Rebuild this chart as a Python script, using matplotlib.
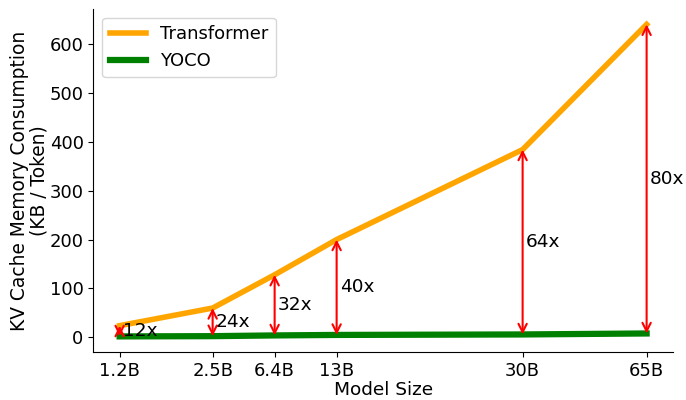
import matplotlib
matplotlib.use('Agg')
import matplotlib.pyplot as plt

models = ['1.2B', '2.5B', '6.4B', '13B', '30B', '65B']
xpos = [0, 1.5, 2.5, 3.5, 6.5, 8.5]
transformer = [24, 60, 128, 200, 384, 640]
yoco = [2, 2.5, 4, 5, 6, 8]
ratios = ['12x', '24x', '32x', '40x', '64x', '80x']

fig, ax = plt.subplots(figsize=(6.86, 4), dpi=100)
fig.subplots_adjust(left=0.136, right=0.981, top=0.978, bottom=0.12)

ax.plot(xpos, transformer, color='orange', linewidth=4, label='Transformer')
ax.plot(xpos, yoco, color='green', linewidth=4.5, label='YOCO')

for x, t, y, r in zip(xpos, transformer, yoco, ratios):
    ax.annotate('', xy=(x, t), xytext=(x, y),
                arrowprops=dict(arrowstyle='<->', color='red', lw=1.5,
                                shrinkA=0, shrinkB=0, mutation_scale=15))
    ax.text(x + 0.05, (t + y) / 2, r, fontsize=13.3, va='center', ha='left')

ax.set_xticks(xpos)
ax.set_xticklabels(models)
ax.tick_params(labelsize=13)
ax.set_xlabel('Model Size', fontsize=13.3, labelpad=1)
ax.set_ylabel('KV Cache Memory Consumption\n(KB / Token)', fontsize=13.4,
              linespacing=1.0, labelpad=1)
ax.spines['top'].set_visible(False)
ax.spines['right'].set_visible(False)
ax.legend(loc='upper left', fontsize=13)

plt.savefig('out.png')
